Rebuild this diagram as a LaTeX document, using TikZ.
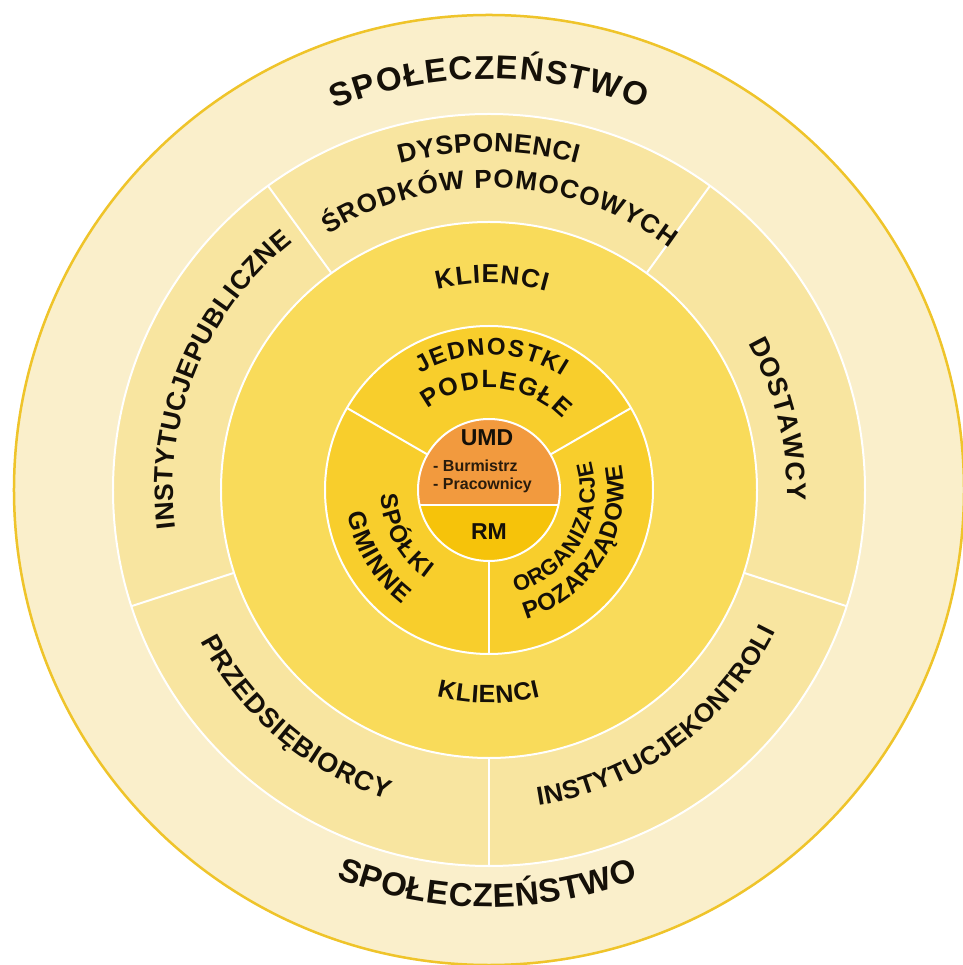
\documentclass[tikz,border=0pt]{standalone}
\usepackage{fontspec}
\setmainfont{Liberation Sans}
\usetikzlibrary{decorations.text}
\definecolor{cOuter}{HTML}{FAEFCB}
\definecolor{cBorder}{HTML}{EFC42A}
\definecolor{cRingB}{HTML}{F8E5A0}
\definecolor{cKlienci}{HTML}{F9DB5A}
\definecolor{cInner}{HTML}{F8CE2C}
\definecolor{cUMD}{HTML}{F29A3E}
\definecolor{cRM}{HTML}{F6C30A}
\definecolor{cText}{HTML}{151008}
\definecolor{cStaff}{HTML}{2A1C0C}
\tikzset{
  sepline/.style={white, line width=2pt},
  boxlabel/.style={text=cText, font=\bfseries},
  stafflabel/.style={text=cStaff, anchor=base west, inner sep=0pt,
     font=\fontsize{16}{16}\selectfont\bfseries},
}
% #1 radius, #2 start angle, #3 end angle, #4 font size, #5 text
\newcommand\arctext[5]{%
  \path[decorate, decoration={text along path, text color=cText,
     text align={fit to path},
     text={|\fontsize{#4}{#4}\selectfont\bfseries|#5}}]
     (#2:#1pt) arc[start angle=#2, end angle=#3, radius=#1pt];}
\begin{document}
\begin{tikzpicture}[x=1pt,y=1pt]
\useasboundingbox (-489,-475) rectangle (473,490);
\fill[white] (-489,-475) rectangle (473,490);
% rings
\fill[cOuter] (0,0) circle[radius=476pt];
\draw[cBorder, line width=2.5pt] (0,0) circle[radius=475pt];
\fill[cRingB] (0,0) circle[radius=376pt];
\fill[cKlienci] (0,0) circle[radius=268pt];
\fill[cInner] (0,0) circle[radius=164pt];
\foreach \rr in {376,268,164} \draw[sepline] (0,0) circle[radius=\rr pt];
\foreach \a in {54,126,198,270,342} \draw[sepline] (\a:268pt) -- (\a:376pt);
\foreach \a in {30,150,270} \draw[sepline] (\a:71pt) -- (\a:164pt);
% centre
\fill[cRM] (0,0) circle[radius=71pt];
\begin{scope}
  \clip (0,0) circle[radius=71pt];
  \fill[cUMD] (-80,-15) rectangle (80,80);
\end{scope}
\draw[sepline] (0,0) circle[radius=71pt];
\draw[sepline] (-69.4,-15) -- (69.4,-15);
\node[boxlabel, font=\fontsize{23}{23}\selectfont\bfseries] (umd) at (-2,52) {UMD};
\node[stafflabel] (burm) at (-56,18) {- Burmistrz};
\node[stafflabel] (prac) at (-56,0.5) {- Pracownicy};
\node[boxlabel, font=\fontsize{23}{23}\selectfont\bfseries] (rm) at (0,-41.5) {RM};
% outer ring
\arctext{411}{112}{68}{33}{SPOŁECZEŃSTWO}
\arctext{417}{248.5}{291}{33}{SPOŁECZEŃSTWO}
% second ring
\arctext{338}{105.3}{74.9}{26.5}{DYSPONENCI}
\arctext{302}{122.2}{53.2}{26}{ŚRODKÓW POMOCOWYCH}
\arctext{316}{187}{128.4}{26.5}{INSTYTUCJEPUBLICZNE}
\arctext{298}{29.5}{-2}{27}{DOSTAWCY}
\arctext{326}{207.6}{251.8}{27}{PRZEDSIĘBIORCY}
\arctext{319.5}{278.9}{333.7}{26}{INSTYTUCJEKONTROLI}
% klienci ring
\arctext{207}{104.5}{74}{26}{KLIENCI}
\arctext{213}{255.8}{283.9}{25}{KLIENCI}
% inner ring
\arctext{135}{120.7}{57.3}{24}{JEDNOSTKI}
\arctext{102}{127}{44}{25}{PODLEGŁE}
\arctext{108.5}{182.4}{234.5}{24}{SPÓŁKI}
\arctext{143}{189.6}{232.7}{25}{GMINNE}
\arctext{106}{284.7}{376}{22}{ORGANIZACJE}
\arctext{134.5}{286}{371}{24}{POZARZĄDOWE}
\end{tikzpicture}
\end{document}
